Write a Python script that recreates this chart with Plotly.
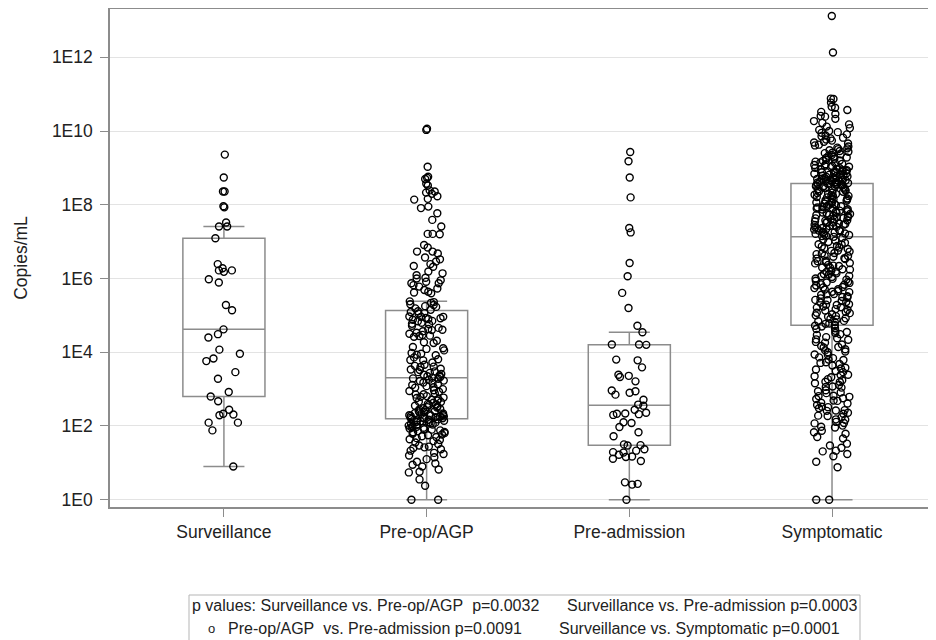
import plotly.graph_objects as go

# ---------------- data (log10 of copies/mL) ----------------
categories = ["Surveillance", "Pre-op/AGP", "Pre-admission", "Symptomatic"]

surveillance_log = [
    9.36, 8.74, 8.36, 8.36, 7.93, 7.96, 7.52, 7.41, 7.41, 7.09,
    6.39, 6.28, 6.22, 6.18, 6.22, 5.98, 5.89, 5.28, 5.14, 4.62,
    4.40, 4.49, 4.07, 3.96, 3.83, 3.76, 3.46, 3.28, 2.92, 2.80,
    2.67, 2.44, 2.29, 2.31, 2.33, 2.09, 2.09, 1.88, 0.90,
]

preop_log = [
    10.06, 10.03, 9.03, 8.76, 8.73, 8.70, 8.57, 8.52, 8.39, 8.36,
    8.33, 8.30, 8.23, 8.16, 8.14, 7.95, 7.91, 7.77, 7.59, 7.41,
    7.21, 7.21, 7.20, 6.91, 6.84, 6.73, 6.73, 6.68, 6.57, 6.52,
    6.46, 6.39, 6.34, 6.32, 6.19, 6.14, 6.09, 6.02, 6.00, 5.95,
    5.91, 5.87, 5.87, 5.82, 5.78, 5.73, 5.69, 5.64, 5.62, 5.60,
    5.38, 5.36, 5.34, 5.30, 5.28, 5.25, 5.23, 5.19, 5.15,
    5.11, 5.09, 5.06, 5.05, 4.97, 4.96, 4.96, 4.93, 4.92, 4.90,
    4.88, 4.85, 4.84, 4.80, 4.77, 4.76, 4.72, 4.66, 4.63, 4.61,
    4.60, 4.57, 4.53, 4.50, 4.47, 4.45, 4.44, 4.42, 4.31, 4.27,
    4.25, 4.14, 4.11, 4.09, 4.05, 3.98, 3.96, 3.93, 3.92, 3.86,
    3.81, 3.79, 3.78, 3.72, 3.66, 3.63, 3.61, 3.60, 3.55, 3.53,
    3.52, 3.48, 3.46, 3.44, 3.41, 3.39, 3.37, 3.35, 3.33, 3.31,
    3.29, 3.28, 3.25, 3.23, 3.22, 3.18, 3.17, 3.13, 3.11, 3.08,
    3.05, 3.04, 3.00, 2.97, 2.95, 2.93, 2.88, 2.86, 2.85, 2.81,
    2.79, 2.77, 2.76, 2.73, 2.71, 2.69, 2.66, 2.65, 2.63, 2.60,
    2.58, 2.57, 2.55, 2.53, 2.51, 2.50, 2.48, 2.46, 2.45, 2.43,
    2.41, 2.40, 2.38, 2.37, 2.35, 2.34, 2.33, 2.31, 2.30, 2.29,
    2.28, 2.27, 2.26, 2.25, 2.24, 2.23, 2.22, 2.21, 2.20, 2.19,
    2.18, 2.17, 2.15, 2.14, 2.13, 2.11, 2.10, 2.09, 2.07, 2.06,
    2.04, 2.03, 2.01, 1.99, 1.98, 1.96, 1.95, 1.93, 1.91, 1.90,
    1.88, 1.86, 1.84, 1.83, 1.81, 1.79, 1.77, 1.75, 1.72, 1.70,
    1.67, 1.64, 1.62, 1.59, 1.55, 1.51, 1.47, 1.44, 1.42, 1.40,
    1.37, 1.33, 1.27, 1.24, 1.20, 1.15, 1.10, 1.03, 0.98, 0.95,
    0.90, 0.82, 0.76, 0.74, 0.55, 0.38, 0.00, 0.00,
]

preadmission_log = [
    9.43, 9.18, 8.74, 8.20, 7.37, 7.25, 6.42, 6.06, 5.61, 5.20,
    4.72, 4.54, 4.21, 4.21, 4.20, 3.80, 3.78, 3.59, 3.39, 3.36,
    3.33, 3.21, 2.96, 2.94, 2.90, 2.85, 2.71, 2.58, 2.55, 2.44,
    2.36, 2.34, 2.33, 2.32, 2.30, 2.10, 2.08, 1.97, 1.83, 1.72,
    1.50, 1.48, 1.47, 1.37, 1.33, 1.29, 1.28, 1.22, 1.17, 1.16,
    1.11, 1.05, 0.47, 0.41, 0.43, 0.00,
]

symptomatic_log = [
    # below Q1
    0.00, 0.00, 0.88, 1.03, 1.18, 1.24, 1.31, 1.33, 1.41, 1.47,
    1.52, 1.66, 1.70, 1.79, 1.83, 1.87, 1.96, 1.98, 2.01, 2.07,
    2.08, 2.11, 2.17, 2.18, 2.24, 2.27, 2.28, 2.33, 2.36, 2.41,
    2.42, 2.43, 2.48, 2.51, 2.52, 2.57, 2.61, 2.63, 2.68, 2.69,
    2.73, 2.75, 2.79, 2.81, 2.82, 2.89, 2.91, 2.94, 2.97, 3.04,
    3.06, 3.07, 3.11, 3.16, 3.19, 3.20, 3.24, 3.27, 3.32, 3.35,
    3.38, 3.39, 3.46, 3.49, 3.53, 3.56, 3.58, 3.64, 3.68, 3.71,
    3.73, 3.79, 3.80, 3.84, 3.86, 3.93, 3.94, 4.00, 4.02, 4.05,
    4.08, 4.13, 4.14, 4.17, 4.21, 4.26, 4.28, 4.34, 4.35, 4.38,
    4.41, 4.47, 4.49, 4.52, 4.55, 4.58, 4.63, 4.65, 4.70, 4.72,
    # Q1 to median
    4.74, 4.77, 4.78, 4.82, 4.84, 4.85, 4.89, 4.91, 4.92, 4.96,
    4.98, 5.00, 5.03, 5.06, 5.07, 5.09, 5.13, 5.15, 5.17, 5.21,
    5.22, 5.24, 5.28, 5.29, 5.30, 5.35, 5.36, 5.39, 5.41, 5.42,
    5.46, 5.49, 5.50, 5.52, 5.56, 5.57, 5.58, 5.63, 5.64, 5.66,
    5.70, 5.71, 5.74, 5.76, 5.77, 5.81, 5.83, 5.84, 5.88, 5.89,
    5.91, 5.94, 5.97, 5.99, 6.00, 6.04, 6.06, 6.07, 6.11, 6.12,
    6.14, 6.18, 6.19, 6.21, 6.24, 6.25, 6.29, 6.30, 6.34, 6.35,
    6.37, 6.41, 6.42, 6.44, 6.47, 6.48, 6.53, 6.54, 6.55, 6.59,
    6.61, 6.62, 6.66, 6.68, 6.69, 6.73, 6.75, 6.76, 6.80, 6.82,
    6.84, 6.87, 6.88, 6.92, 6.93, 6.97, 6.99, 7.03, 7.06, 7.10,
    # median to Q3
    7.13, 7.15, 7.16, 7.18, 7.19, 7.21, 7.22, 7.24, 7.25, 7.26,
    7.29, 7.30, 7.31, 7.33, 7.34, 7.36, 7.37, 7.39, 7.40, 7.42,
    7.43, 7.45, 7.46, 7.48, 7.49, 7.51, 7.52, 7.54, 7.55, 7.57,
    7.58, 7.60, 7.61, 7.63, 7.64, 7.66, 7.67, 7.69, 7.70, 7.72,
    7.73, 7.75, 7.76, 7.78, 7.79, 7.81, 7.82, 7.84, 7.85, 7.87,
    7.88, 7.90, 7.91, 7.93, 7.94, 7.96, 7.97, 7.99, 8.00, 8.02,
    8.03, 8.05, 8.06, 8.08, 8.09, 8.11, 8.12, 8.14, 8.15, 8.17,
    8.18, 8.20, 8.21, 8.23, 8.24, 8.26, 8.27, 8.29, 8.30, 8.32,
    8.33, 8.35, 8.36, 8.38, 8.39, 8.41, 8.42, 8.44, 8.45, 8.47,
    8.48, 8.49, 8.50, 8.51, 8.52, 8.53, 8.54, 8.55, 8.56, 8.57,
    8.57,
    # above Q3
    13.12, 12.13, 10.88, 10.87, 10.77, 10.66, 10.63, 10.57, 10.52, 10.46,
    10.41, 10.39, 10.33, 10.27, 10.22, 10.18, 10.12, 10.08, 10.03, 10.00,
    9.97, 9.95, 9.91, 9.88, 9.86, 9.82, 9.80, 9.77, 9.74, 9.71,
    9.69, 9.66, 9.63, 9.61, 9.58, 9.55, 9.53, 9.51, 9.48, 9.46,
    9.44, 9.41, 9.40, 9.37, 9.35, 9.33, 9.30, 9.28, 9.27, 9.25,
    9.22, 9.20, 9.19, 9.17, 9.15, 9.13, 9.11, 9.10, 9.08, 9.06,
    9.05, 9.03, 9.02, 9.00, 8.99, 8.97, 8.96, 8.94, 8.93, 8.92,
    8.90, 8.89, 8.88, 8.86, 8.85, 8.84, 8.83, 8.81, 8.80, 8.79,
    8.78, 8.77, 8.76, 8.75, 8.74, 8.73, 8.72, 8.71, 8.70, 8.69,
    8.68, 8.67, 8.66, 8.65, 8.64, 8.63, 8.62, 8.61, 8.60, 8.59,
]

tick_exponents = [0, 2, 4, 6, 8, 10, 12]
tick_labels = ["1E0", "1E2", "1E4", "1E6", "1E8", "1E10", "1E12"]
y_title = "Copies/mL"

legend_line1 = ["p values: Surveillance vs. Pre-op/AGP\u00a0\u00a0p=0.0032",
                "Surveillance vs. Pre-admission p=0.0003"]
legend_line2 = ["Pre-op/AGP\u00a0\u00a0vs. Pre-admission p=0.0091",
                "Surveillance vs. Symptomatic p=0.0001"]

# ---------------- figure ----------------
groups = [surveillance_log, preop_log, preadmission_log, symptomatic_log]
xs, ys = [], []
for cat, vals in zip(categories, groups):
    for v in vals:
        xs.append(cat)
        ys.append(10 ** v)

FONT = "Liberation Sans, Arial, sans-serif"
GREY = "#8c8c8c"
TXT = "#222222"

fig = go.Figure()
fig.add_trace(go.Box(
    x=xs, y=ys,
    boxpoints="all", jitter=0.44, pointpos=0,
    quartilemethod="exclusive",
    width=0.405, whiskerwidth=0.5,
    fillcolor="rgba(0,0,0,0)",
    line=dict(color=GREY, width=1.5),
    marker=dict(symbol="circle-open", size=7, color="black",
                line=dict(width=1.4, color="black")),
    showlegend=False, hoverinfo="y",
))

# The page body has an 8px margin, so the figure is drawn at (8, 8).
W, H = 928, 632
L, R, T, B = 102, 0, 1, 133          # plot area on the page: x 110..936, y 9..507
pw, ph = W - L - R, H - T - B


def px(page_x):
    return (page_x - 8 - L) / pw


def py(page_y):
    return (H - B - (page_y - 8)) / ph


fig.update_layout(
    width=W, height=H,
    margin=dict(l=L, r=R, t=T, b=B, pad=0),
    paper_bgcolor="white", plot_bgcolor="white",
    font=dict(family=FONT, size=17, color=TXT),
    xaxis=dict(
        type="category", categoryorder="array", categoryarray=categories,
        range=[-0.562, 3.513],
        showline=True, mirror=True, linecolor=GREY, linewidth=1.5,
        ticks="outside", ticklen=8, tickcolor=GREY, tickwidth=1,
        showgrid=False,
        tickfont=dict(family=FONT, size=17.5, color=TXT),
    ),
    yaxis=dict(
        type="log", range=[-0.198, 13.31],
        tickvals=[10 ** e for e in tick_exponents], ticktext=tick_labels,
        showline=True, mirror=False, linecolor=GREY, linewidth=1.5,
        ticks="outside", ticklen=8, tickcolor=GREY, tickwidth=1,
        ticklabelstandoff=4,
        showgrid=True, gridcolor="#e3e3e3", gridwidth=1,
        zeroline=False,
        tickfont=dict(family=FONT, size=17.5, color=TXT),
        title=dict(text=y_title, font=dict(family=FONT, size=17.5, color=TXT),
                   standoff=20),
    ),
)

# legend box (bottom, partly cut off)
fig.add_shape(type="rect", xref="paper", yref="paper",
              x0=px(189), x1=px(860), y0=py(595), y1=py(660),
              line=dict(color="#b5b5b5", width=1), fillcolor="white")

LEG = dict(family=FONT, size=16, color=TXT)
fig.add_annotation(xref="paper", yref="paper", x=px(190), y=py(605),
                   xanchor="left", yanchor="middle", showarrow=False,
                   text=legend_line1[0], font=LEG)
fig.add_annotation(xref="paper", yref="paper", x=px(565), y=py(605),
                   xanchor="left", yanchor="middle", showarrow=False,
                   text=legend_line1[1], font=LEG)
fig.add_annotation(xref="paper", yref="paper", x=px(206), y=py(628),
                   xanchor="left", yanchor="middle", showarrow=False,
                   text="o", font=dict(family=FONT, size=13, color=TXT))
fig.add_annotation(xref="paper", yref="paper", x=px(226), y=py(628),
                   xanchor="left", yanchor="middle", showarrow=False,
                   text=legend_line2[0], font=LEG)
fig.add_annotation(xref="paper", yref="paper", x=px(557), y=py(628),
                   xanchor="left", yanchor="middle", showarrow=False,
                   text=legend_line2[1], font=LEG)

fig.write_html("out.html")
